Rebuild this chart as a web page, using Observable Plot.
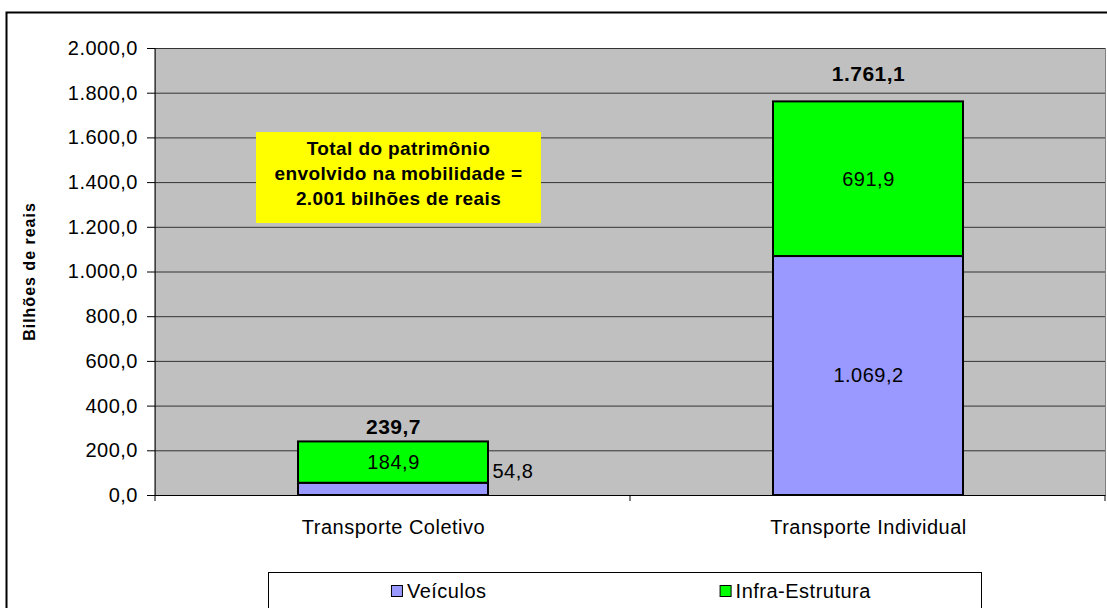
<!DOCTYPE html>
<html>
<head>
<meta charset="utf-8">
<script src="https://cdn.jsdelivr.net/npm/d3@7"></script>
<script src="https://cdn.jsdelivr.net/npm/@observablehq/plot@0.6"></script>
<style>
  html, body { margin: 0; padding: 0; background: white; }
</style>
</head>
<body>
<div id="chart"></div>
<script>
// ---- data ----
const categories = ["Transporte Coletivo", "Transporte Individual"];
const series = ["Veículos", "Infra-Estrutura"];
const seriesColors = ["#9999FF", "#00FF00"];
const veiculos = [54.8, 1069.2];
const infraEstrutura = [184.9, 691.9];
const totals = [239.7, 1761.1];
const yTicks = [0, 200, 400, 600, 800, 1000, 1200, 1400, 1600, 1800, 2000];
const yLabel = "Bilhões de reais";
const noteLines = ["Total do patrimônio", "envolvido na mobilidade =", "2.001 bilhões de reais"];

// ---- derived tables ----
const fmt = d3.formatLocale({decimal: ",", thousands: ".", grouping: [3], currency: ["R$ ", ""]}).format(",.1f");
const data = categories.flatMap((c, i) => [
  {cat: c, series: series[0], value: veiculos[i]},
  {cat: c, series: series[1], value: infraEstrutura[i]}
]);
// labels at the midpoints of the stacked segments
const innerLabels = categories.flatMap((c, i) => [
  {cat: c, mid: veiculos[i] / 2, value: veiculos[i]},
  {cat: c, mid: veiculos[i] + infraEstrutura[i] / 2, value: infraEstrutura[i]}
]);
const insideLabels = innerLabels.filter(d => d.value > 100);
const outsideLabels = innerLabels.filter(d => d.value <= 100);
const totalData = categories.map((c, i) => ({cat: c, total: totals[i]}));

const FONT = "'Liberation Sans', Arial, Helvetica, sans-serif";

const plot = Plot.plot({
  width: 1107,
  height: 608,
  marginLeft: 155,
  marginRight: 2,
  marginTop: 48,
  marginBottom: 113,
  style: {fontFamily: FONT, fontSize: "20px", background: "white", color: "black", letterSpacing: "0.5px", overflow: "visible"},
  x: {domain: categories, paddingInner: 0.6, paddingOuter: 0.3, label: null},
  y: {domain: [0, 2000], label: null},
  color: {domain: series, range: seriesColors},
  marks: [
    Plot.frame({fill: "#C0C0C0", stroke: "#808080"}),
    Plot.gridY(yTicks, {stroke: "#333", strokeOpacity: 1}),
    Plot.barY(data, {x: "cat", y: "value", fill: "series", stroke: "black", strokeWidth: 2, order: series}),
    Plot.ruleY([0], {stroke: "black"}),
    Plot.axisY(yTicks, {tickFormat: fmt, tickSize: 8, tickPadding: 9.5, label: null, stroke: "black"}),
    Plot.axisX({tickSize: 0, tickPadding: 24, label: null}),
    Plot.text(insideLabels, {x: "cat", y: "mid", text: d => fmt(d.value), fill: "black"}),
    Plot.text(outsideLabels, {x: "cat", y: "value", text: d => fmt(d.value), fill: "black", textAnchor: "start", dx: 99, dy: -12}),
    Plot.text(totalData.filter((d, i) => i === 0), {x: "cat", y: "total", text: d => fmt(d.total), fontWeight: "bold", fontSize: 21, dy: -15}),
    Plot.text(totalData.filter((d, i) => i === 1), {x: "cat", y: "total", text: d => fmt(d.total), fontWeight: "bold", fontSize: 21, dy: -28})
  ]
});

document.getElementById("chart").appendChild(plot);

// ---- decorations drawn into the same SVG ----
const svg = d3.select(plot);
const xs = plot.scale("x");
const ys = plot.scale("y");
const left = 155;
const y0 = ys.apply(0), yTop = ys.apply(2000);

// left axis line
svg.append("line").attr("x1", left).attr("x2", left).attr("y1", yTop).attr("y2", y0 + 0.5)
  .attr("stroke", "black").attr("stroke-width", 1);
// category boundary ticks on x axis
for (let i = 0; i <= categories.length; i++) {
  const xv = left + i * xs.step;
  svg.append("line").attr("x1", xv).attr("x2", xv).attr("y1", y0).attr("y2", y0 + 6)
    .attr("stroke", "black").attr("stroke-width", 1);
}

// y axis title
svg.append("text")
  .attr("transform", `translate(29,${(y0 + yTop) / 2}) rotate(-90)`)
  .attr("text-anchor", "middle").attr("dy", "0.35em")
  .attr("font-family", FONT).attr("font-weight", "bold").attr("font-size", 16)
  .attr("letter-spacing", "1px").attr("fill", "black")
  .text(yLabel);

// yellow annotation box
const note = svg.append("g");
note.append("rect").attr("x", 256).attr("y", 132).attr("width", 285).attr("height", 91).attr("fill", "#FFFF00");
noteLines.forEach((t, i) => {
  note.append("text").attr("x", 398.5).attr("y", 148 + i * 25).attr("dy", "0.35em")
    .attr("text-anchor", "middle").attr("font-family", FONT).attr("font-weight", "bold")
    .attr("font-size", 19).attr("letter-spacing", "0.4px").attr("fill", "black").text(t);
});

// legend box
const lg = svg.append("g");
const lx0 = 268.5, lx1 = 981.5, ly0 = 572.5;
lg.append("rect").attr("x", lx0).attr("y", ly0).attr("width", lx1 - lx0).attr("height", 60)
  .attr("fill", "white").attr("stroke", "black").attr("stroke-width", 1);
const colW = (lx1 - lx0) / series.length;
series.forEach((s, i) => {
  const g = lg.append("g");
  const txt = g.append("text").attr("y", 598).attr("text-anchor", "start")
    .attr("font-family", FONT).attr("font-size", 20)
    .attr("letter-spacing", "0.5px").attr("fill", "black").text(s);
  const tw = txt.node().getComputedTextLength();
  const entryW = 16 + tw;
  const ex = lx0 + (i + 0.5) * colW - entryW / 2 - 8;
  g.append("rect").attr("x", ex + 0.5).attr("y", 585.5).attr("width", 11).attr("height", 11)
    .attr("fill", seriesColors[i]).attr("stroke", "black").attr("stroke-width", 1);
  txt.attr("x", ex + 16);
});

// outer chart border (right and bottom edges lie outside the view)
svg.append("rect").attr("x", 6.5).attr("y", 12.5).attr("width", 1200).attr("height", 700)
  .attr("fill", "none").attr("stroke", "black").attr("stroke-width", 2);
</script>
</body>
</html>
